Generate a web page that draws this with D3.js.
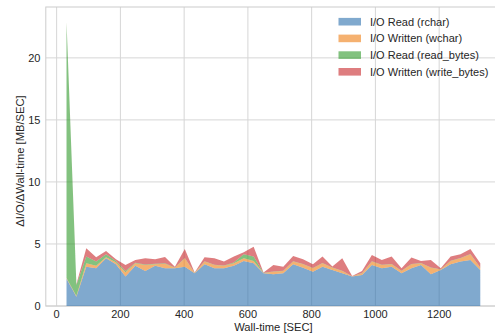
<!DOCTYPE html>
<html>
<head>
<meta charset="utf-8">
<script src="https://cdn.jsdelivr.net/npm/d3@7"></script>
<style>
  body { margin: 0; background: #fff; }
  text { font-family: "Liberation Sans", Arial, sans-serif; fill: #262626; }
</style>
</head>
<body>
<div id="chart"></div>
<script>
// wall-time of each sample [sec]
var times = [31, 62, 93, 124, 155, 186, 216, 247, 278, 309, 340, 371, 402, 433, 464,
  495, 525, 556, 587, 618, 649, 680, 711, 742, 773, 804, 834, 865, 896, 927, 958,
  989, 1020, 1051, 1082, 1113, 1143, 1174, 1205, 1236, 1267, 1298, 1329];

// MB/sec per series
var rchar = [2.2, 0.75, 3.17, 3.04, 3.84, 3.36, 2.37, 3.25, 2.82, 3.25, 3.04, 3.04, 3.17, 2.63, 3.36,
  3.04, 3.04, 3.25, 3.63, 3.44, 2.63, 2.55, 2.63, 3.36, 3.09, 2.77, 3.17, 2.9, 2.63, 2.37, 2.5,
  3.3, 3.04, 3.17, 2.63, 3.04, 3.3, 2.55, 2.9, 3.36, 3.58, 3.71, 2.9];
var wchar = [0.05, 0.05, 0.27, 0.21, 0.08, 0.16, 0.35, 0.19, 0.48, 0.11, 0.36, 0.05, 0.67, 0.03, 0.22,
  0.26, 0.21, 0.19, 0.21, 0.19, 0.03, 0.22, 0.19, 0.22, 0.27, 0.27, 0.27, 0.19, 0.19, 0.02, 0.13,
  0.28, 0.26, 0.19, 0.19, 0.32, 0.14, 0.54, 0.05, 0.27, 0.26, 0.46, 0.19];
var readBytes = [20.6, 0.9, 0.54, 0.33, 0.25, 0.11, 0.1, 0.04, 0.04, 0.04, 0.04, 0.02, 0.03, 0.02, 0.02,
  0.02, 0.02, 0.06, 0.33, 0.35, 0.02, 0.02, 0.02, 0.02, 0.02, 0.02, 0.02, 0.02, 0.02, 0.01, 0.02,
  0.02, 0.02, 0.02, 0.02, 0.02, 0.02, 0.02, 0.02, 0.02, 0.02, 0.02, 0.02];
var writeBytes = [0.05, 0.05, 0.67, 0.34, 0.27, 0.13, 0.48, 0.23, 0.5, 0.36, 0.51, 0.06, 0.73, 0.02, 0.32,
  0.52, 0.31, 0.48, 0.16, 0.8, 0.02, 0.51, 0.33, 0.43, 0.38, 0.3, 0.52, 0.07, 1.0, 0.01, 0.17,
  0.51, 0.39, 0.6, 0.2, 0.52, 0.17, 0.6, 0.07, 0.33, 0.31, 0.41, 0.33];

var seriesNames = ["I/O Read (rchar)", "I/O Written (wchar)", "I/O Read (read_bytes)", "I/O Written (write_bytes)"];
var seriesColors = ["#2b6fad", "#ee7d10", "#2e9a2a", "#c8272a"];
var xTicks = [0, 200, 400, 600, 800, 1000, 1200];
var yTicks = [0, 5, 10, 15, 20];

var width = 495, height = 336;
var plotL = 45.8, plotR = 501, plotT = 7, plotB = 306;

var table = times.map(function (t, i) {
  return { t: t, rchar: rchar[i], wchar: wchar[i], read_bytes: readBytes[i], write_bytes: writeBytes[i] };
});
var keys = ["rchar", "wchar", "read_bytes", "write_bytes"];

var x = d3.scaleLinear().domain([-34, 1394]).range([plotL, plotR]);
var y = d3.scaleLinear().domain([0, 24.1]).range([plotB, plotT]);

var svg = d3.select("#chart").append("svg")
  .attr("width", width)
  .attr("height", height);

// grid
svg.append("g").selectAll("line").data(xTicks).enter().append("line")
  .attr("x1", function (d) { return x(d); }).attr("x2", function (d) { return x(d); })
  .attr("y1", plotT).attr("y2", plotB)
  .attr("stroke", "#d6d6d6").attr("stroke-width", 1);
svg.append("g").selectAll("line").data(yTicks).enter().append("line")
  .attr("x1", plotL).attr("x2", plotR)
  .attr("y1", function (d) { return y(d); }).attr("y2", function (d) { return y(d); })
  .attr("stroke", "#d6d6d6").attr("stroke-width", 1);

// frame
svg.append("rect")
  .attr("x", plotL).attr("y", plotT)
  .attr("width", plotR - plotL).attr("height", plotB - plotT)
  .attr("fill", "none").attr("stroke", "#cccccc").attr("stroke-width", 1);

var stack = d3.stack().keys(keys);
var layers = stack(table);

var area = d3.area()
  .x(function (d) { return x(d.data.t); })
  .y0(function (d) { return y(d[0]); })
  .y1(function (d) { return y(d[1]); });

svg.append("g").selectAll("path").data(layers).enter().append("path")
  .attr("d", area)
  .attr("fill", function (d, i) { return seriesColors[i]; })
  .attr("fill-opacity", 0.6);

// tick labels
svg.append("g").selectAll("text").data(xTicks).enter().append("text")
  .attr("x", function (d) { return x(d); })
  .attr("y", 318.3)
  .attr("text-anchor", "middle")
  .attr("font-size", 11)
  .text(function (d) { return d; });
svg.append("g").selectAll("text").data(yTicks).enter().append("text")
  .attr("x", 40.5)
  .attr("y", function (d) { return y(d); })
  .attr("dy", "0.36em")
  .attr("text-anchor", "end")
  .attr("font-size", 11)
  .text(function (d) { return d; });

// axis labels
svg.append("text")
  .attr("x", (plotL + plotR) / 2)
  .attr("y", 330.5)
  .attr("text-anchor", "middle")
  .attr("font-size", 11.2)
  .text("Wall-time [SEC]");
svg.append("text")
  .attr("transform", "translate(23.5," + 161 + ") rotate(-90)")
  .attr("text-anchor", "middle")
  .attr("font-size", 11.2)
  .text("ΔI/O/ΔWall-time [MB/SEC]");

// legend
var legend = svg.append("g").attr("transform", "translate(338.5,21.7)");
var rows = legend.selectAll("g").data(seriesNames).enter().append("g")
  .attr("transform", function (d, i) { return "translate(0," + i * 16.7 + ")"; });
rows.append("rect")
  .attr("x", 0).attr("y", -3.8)
  .attr("width", 22.5).attr("height", 7.6)
  .attr("fill", function (d, i) { return seriesColors[i]; })
  .attr("fill-opacity", 0.6);
rows.append("text")
  .attr("x", 31.5)
  .attr("dy", "0.36em")
  .attr("font-size", 11)
  .text(function (d) { return d; });
</script>
</body>
</html>
